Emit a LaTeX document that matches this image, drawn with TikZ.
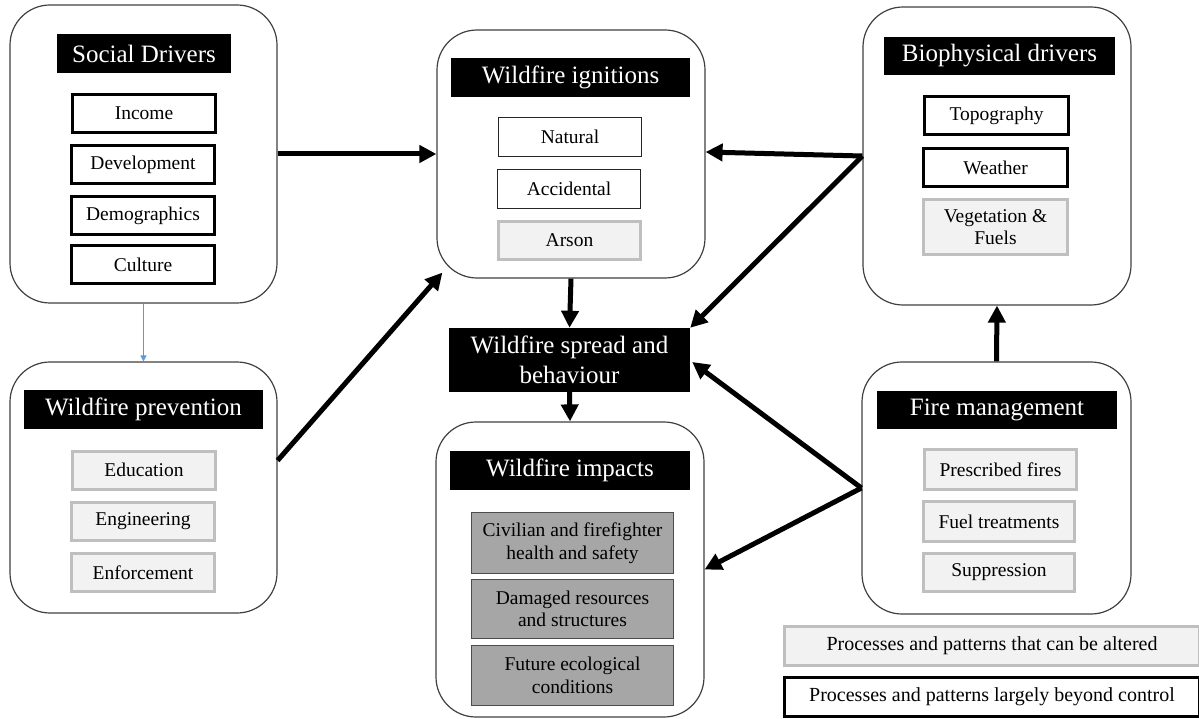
\documentclass[tikz,border=0pt]{standalone}
\usepackage{fontspec}
\setmainfont{Liberation Serif}
\usetikzlibrary{arrows.meta}
\definecolor{softfill}{HTML}{F2F2F2}
\definecolor{softline}{HTML}{BFBFBF}
\definecolor{impactfill}{HTML}{A6A6A6}
\definecolor{linkblue}{HTML}{5B9BD5}
\newcommand{\subfont}{\rmfamily\fontsize{19.5}{22.5}\selectfont}
\newcommand{\titlefont}{\rmfamily\fontsize{25}{30}\selectfont}
\newcommand{\keyfont}{\rmfamily\fontsize{20}{24}\selectfont}
\tikzset{
  group/.style={draw=black!75, line width=1.2pt, rounded corners=40pt, fill=white, inner sep=0pt},
  ttl/.style={fill=black, text=white, font=\titlefont, inner sep=0pt, align=center},
  hard/.style={draw=black, line width=3pt, fill=white, font=\subfont, inner sep=0pt, align=center},
  plain/.style={draw=black!85, line width=1.2pt, fill=white, font=\subfont, inner sep=0pt, align=center},
  soft/.style={draw=softline, line width=3pt, fill=softfill, font=\subfont, inner sep=0pt, align=center},
  impact/.style={draw=black!70, line width=1.2pt, fill=impactfill, font=\subfont, inner sep=0pt, align=center},
  conn/.style={line width=5pt, -{Triangle[length=17pt,width=17pt]}},
  thinlink/.style={draw=linkblue, line width=0.8pt, -{Triangle[length=6pt,width=6pt]}}
}
\begin{document}
\begin{tikzpicture}[x=1pt,y=-1pt]
\useasboundingbox (0,0) rectangle (1199,719);

% Social drivers
\node[group, minimum width=267pt, minimum height=298pt] (social) at (143.5,154) {};
\node[ttl, minimum width=174pt, minimum height=39pt] (socialT) at (144,53.5) {Social Drivers};
\node[hard, minimum width=143pt, minimum height=38pt] (income) at (144,113.5) {Income};
\node[hard, minimum width=143pt, minimum height=38pt] (devel) at (143,164.5) {Development};
\node[hard, minimum width=143pt, minimum height=38pt] (demog) at (143,215.5) {Demographics};
\node[hard, minimum width=143pt, minimum height=38pt] (culture) at (143,264.5) {Culture};

% Wildfire prevention
\node[group, minimum width=267pt, minimum height=251pt] (prev) at (143.5,487.5) {};
\node[ttl, minimum width=239pt, minimum height=39pt] (prevT) at (143.5,409.5) {Wildfire prevention};
\node[soft, minimum width=143pt, minimum height=38pt] (educ) at (144,470) {Education};
\node[soft, minimum width=143pt, minimum height=38pt] (engin) at (143,521.5) {Engineering};
\node[soft, minimum width=143pt, minimum height=38pt] (enfor) at (143,572.5) {Enforcement};

% Wildfire ignitions
\node[group, minimum width=268pt, minimum height=248pt] (ign) at (571,154) {};
\node[ttl, minimum width=239pt, minimum height=39pt] (ignT) at (570.5,77.5) {Wildfire ignitions};
\node[plain, minimum width=143pt, minimum height=39pt] (natural) at (570,137) {Natural};
\node[plain, minimum width=143pt, minimum height=39pt] (accid) at (569,189) {Accidental};
\node[soft, minimum width=142pt, minimum height=38pt] (arson) at (569.5,240.5) {Arson};

% Biophysical drivers
\node[group, minimum width=268pt, minimum height=298pt] (bio) at (997,156) {};
\node[ttl, minimum width=231pt, minimum height=38pt] (bioT) at (999.5,56) {Biophysical drivers};
\node[hard, minimum width=144pt, minimum height=38pt] (topo) at (996.5,115.5) {Topography};
\node[hard, minimum width=144pt, minimum height=38pt] (weather) at (995.5,167.5) {Weather};
\node[soft, minimum width=144pt, minimum height=55pt] (veg) at (995.5,227) {Vegetation \&\\Fuels};

% Wildfire spread and behaviour
\node[ttl, minimum width=241pt, minimum height=64pt] (spread) at (569.5,360) {Wildfire spread and\\behaviour};

% Wildfire impacts
\node[group, minimum width=268pt, minimum height=295pt] (impacts) at (570,569.5) {};
\node[ttl, minimum width=240pt, minimum height=39pt] (impT) at (570,470.5) {Wildfire impacts};
\node[impact, minimum width=202pt, minimum height=61pt] (civil) at (572.5,543) {Civilian and firefighter\\health and safety};
\node[impact, minimum width=202pt, minimum height=59pt] (damage) at (572.5,609) {Damaged resources\\and structures};
\node[impact, minimum width=202pt, minimum height=60pt] (future) at (572.5,675.5) {Future ecological\\conditions};

% Fire management
\node[group, minimum width=269pt, minimum height=252pt] (fire) at (996.5,488) {};
\node[ttl, minimum width=240pt, minimum height=38pt] (fireT) at (997,410) {Fire management};
\node[soft, minimum width=152pt, minimum height=40pt] (presc) at (1000.5,469.5) {Prescribed fires};
\node[soft, minimum width=151pt, minimum height=40pt] (fuel) at (999,521.5) {Fuel treatments};
\node[soft, minimum width=151pt, minimum height=38pt] (supp) at (999,572.5) {Suppression};

% Key
\node[soft, font=\keyfont, minimum width=415pt, minimum height=39pt] (keysoft) at (992,646) {Processes and patterns that can be altered};
\node[hard, font=\keyfont, minimum width=415pt, minimum height=39pt] (keyhard) at (992,697) {Processes and patterns largely beyond control};

% Links
\draw[thinlink] (social.south) -- (prev.north);
\draw[conn] (social.east) -- (ign.west);
\draw[conn] ([yshift=27pt]prev.east) -- ([shift={(6pt,6pt)}]ign.south west);
\draw[conn] (bio.west) -- ([yshift=2pt]ign.east);
\draw[conn] (bio.west) -- (spread.north east);
\draw[conn] (ign.south) -- (spread.north);
\draw[conn] (spread.south) -- (impacts.north);
\draw[conn] (fire.west) -- ([xshift=2pt,yshift=-2pt]spread.east);
\draw[conn] (fire.west) -- (impacts.east);
\draw[conn] (fire.north) -- (bio.south);
\end{tikzpicture}
\end{document}
